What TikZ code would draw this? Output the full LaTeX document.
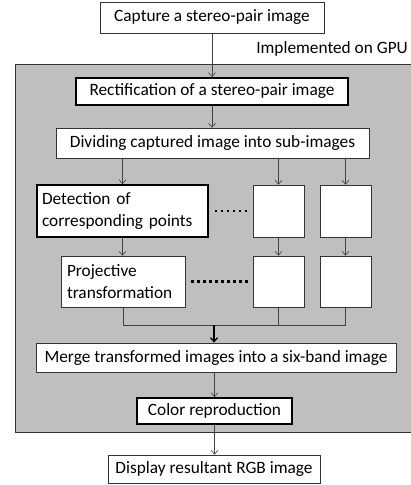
\documentclass[tikz,border=0pt]{standalone}
\usepackage{fontspec}
\setmainfont{Carlito}
\usetikzlibrary{arrows.meta,calc}
\begin{document}
\begin{tikzpicture}[x=1pt,y=-1pt,
  txt/.style={font=\fontsize{17.3}{22.5}\selectfont},
  box/.style={txt,draw=black!80,fill=white,line width=0.7pt,inner sep=0pt},
  thickbox/.style={box,line width=1.8pt,draw=black},
  conn/.style={draw=black!75,line width=0.6pt,-{Straight Barb[length=4pt,width=7pt]}},
  plain/.style={draw=black!75,line width=0.6pt},
  dots/.style={draw=black,line width=2.4pt,dash pattern=on 2.4pt off 3.6pt}]
\useasboundingbox (0,0) rectangle (411,485);
\fill[fill=black!25] (15,64) rectangle (413,432);
\draw[black!80,line width=0.8pt] (413,64) -- (15,64) -- (15,432) -- (413,432);
\node[txt,anchor=east,inner sep=0pt] (gpu) at (408,49) {Implemented on GPU};
% boxes
\node[box,minimum width=224pt,minimum height=31pt] (cap) at (212,17.5) {Capture a stereo-pair image};
\node[thickbox,minimum width=272pt,minimum height=27pt] (rect) at (212,91.5) {Rectification of a stereo-pair image};
\node[box,minimum width=313pt,minimum height=30pt] (div) at (212.5,143) {Dividing captured image into sub-images};
\node[thickbox,minimum width=171pt,minimum height=52pt,align=left,text width=161pt] (det) at (122.5,211) {Detection of\\corresponding points};
\node[box,minimum width=51pt,minimum height=52pt] (b1a) at (278.5,211) {};
\node[box,minimum width=51pt,minimum height=52pt] (b1b) at (345.5,211) {};
\node[box,minimum width=124pt,minimum height=51pt,align=left,text width=112pt] (proj) at (123,281.5) {Projective\\transformation};
\node[box,minimum width=51pt,minimum height=51pt] (b2a) at (278.5,281.5) {};
\node[box,minimum width=51pt,minimum height=51pt] (b2b) at (345.5,281.5) {};
\node[box,minimum width=360pt,minimum height=29pt] (merge) at (216,357.5) {Merge transformed images into a six-band image};
\node[thickbox,minimum width=155pt,minimum height=26pt] (color) at (214.5,411) {Color reproduction};
\node[box,minimum width=212pt,minimum height=28pt] (disp) at (214,469) {Display resultant RGB image};
% connectors
\draw[conn] (cap.south) -- (cap.south |- rect.north);
\draw[conn] (rect.south) -- (rect.south |- div.north);
\draw[conn] (div.south -| det.north) -- (det.north);
\draw[conn] (div.south -| b1a.north) -- (b1a.north);
\draw[conn] (div.south -| b1b.north) -- (b1b.north);
\draw[conn] (det.south) -- (det.south |- proj.north);
\draw[conn] (b1a.south) -- (b2a.north);
\draw[conn] (b1b.south) -- (b2b.north);
\coordinate (jn) at (214,325);
\draw[plain] (proj.south) |- (jn);
\draw[plain] (b2a.south) |- (jn);
\draw[plain] (b2b.south) |- (jn);
\draw[draw=black,line width=1.3pt,-{Straight Barb[length=4pt,width=7pt]}] (jn) -- (jn |- merge.north);
\draw[conn] (merge.south -| color.north) -- (color.north);
\draw[conn] (color.south) -- (color.south |- disp.north);
% dots
\draw[dots] ($(det.east)+(6,0)$) -- ($(b1a.west)+(-4,0)$);
\draw[dots] ($(proj.east)+(6,0)$) -- ($(b2a.west)+(-4,0)$);
\end{tikzpicture}
\end{document}
